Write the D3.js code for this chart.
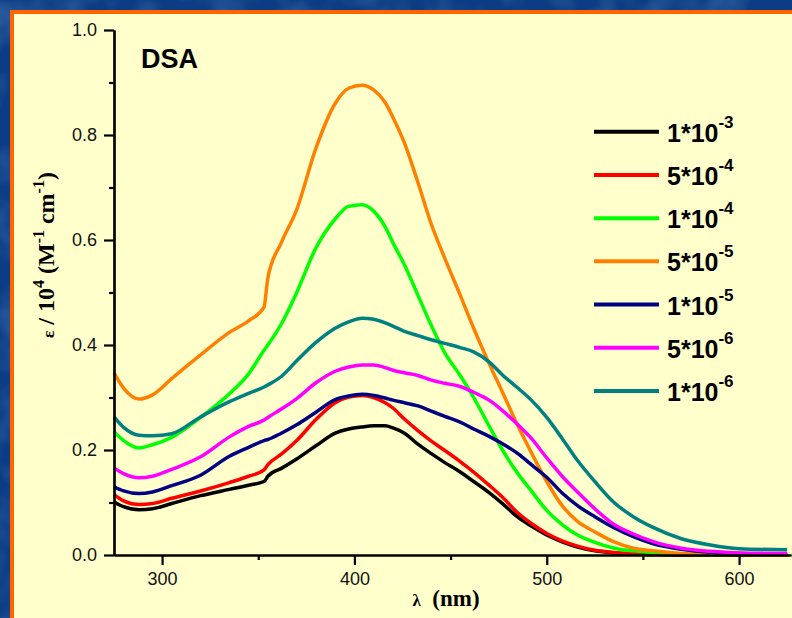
<!DOCTYPE html>
<html>
<head>
<meta charset="utf-8">
<script src="https://cdn.jsdelivr.net/npm/d3@7"></script>
<style>
  html, body { margin: 0; padding: 0; background: #0c3d84; }
  svg { display: block; }
</style>
</head>
<body>
<svg id="chart" width="792" height="618"></svg>
<script>
// wavelength grid (nm) shared by all series
const wavelengths = [275, 280, 288, 295, 305, 320, 335, 345, 353, 355, 362, 370, 380, 390, 397, 404, 410, 416, 420, 426,
  433, 440, 447, 455, 462, 470, 477, 485, 492, 500, 508, 516, 525, 535, 545, 555, 570, 585, 600, 625];

// epsilon / 10^4
const conc1e3 = [0.101, 0.092, 0.086, 0.088, 0.098, 0.113, 0.125, 0.133, 0.140, 0.150, 0.165, 0.183, 0.208, 0.232, 0.240, 0.244, 0.246, 0.246, 0.242, 0.232,
  0.211, 0.193, 0.176, 0.158, 0.140, 0.119, 0.098, 0.072, 0.055, 0.038, 0.025, 0.015, 0.008, 0.004, 0.002, 0.001, 0.000, 0.000, 0.000, 0.000];
const conc5e4 = [0.115, 0.103, 0.096, 0.098, 0.108, 0.122, 0.138, 0.150, 0.162, 0.172, 0.192, 0.218, 0.258, 0.290, 0.301, 0.304, 0.300, 0.290, 0.280, 0.259,
  0.237, 0.217, 0.199, 0.178, 0.158, 0.133, 0.110, 0.080, 0.060, 0.041, 0.027, 0.017, 0.009, 0.005, 0.002, 0.001, 0.000, 0.000, 0.000, 0.000];
const conc1e4 = [0.235, 0.218, 0.204, 0.210, 0.224, 0.262, 0.307, 0.345, 0.390, 0.400, 0.440, 0.500, 0.585, 0.640, 0.664, 0.667, 0.655, 0.625, 0.595, 0.553,
  0.495, 0.437, 0.385, 0.342, 0.300, 0.246, 0.200, 0.155, 0.122, 0.085, 0.058, 0.038, 0.024, 0.013, 0.008, 0.005, 0.002, 0.001, 0.001, 0.000];
const conc5e5 = [0.347, 0.318, 0.297, 0.305, 0.336, 0.381, 0.424, 0.446, 0.472, 0.528, 0.595, 0.658, 0.775, 0.860, 0.889, 0.895, 0.886, 0.862, 0.834, 0.785,
  0.710, 0.630, 0.565, 0.495, 0.432, 0.365, 0.310, 0.246, 0.195, 0.140, 0.094, 0.064, 0.044, 0.025, 0.013, 0.008, 0.003, 0.001, 0.001, 0.000];
const conc1e5 = [0.130, 0.122, 0.117, 0.120, 0.132, 0.152, 0.188, 0.205, 0.218, 0.220, 0.232, 0.248, 0.272, 0.296, 0.303, 0.306, 0.304, 0.299, 0.295, 0.290,
  0.284, 0.274, 0.264, 0.253, 0.240, 0.226, 0.212, 0.193, 0.172, 0.148, 0.118, 0.094, 0.073, 0.052, 0.035, 0.022, 0.011, 0.005, 0.003, 0.002];
const conc5e6 = [0.166, 0.155, 0.147, 0.150, 0.163, 0.187, 0.225, 0.245, 0.257, 0.262, 0.278, 0.298, 0.328, 0.350, 0.358, 0.362, 0.362, 0.357, 0.352, 0.347,
  0.342, 0.333, 0.327, 0.321, 0.310, 0.295, 0.275, 0.248, 0.222, 0.185, 0.150, 0.120, 0.088, 0.058, 0.040, 0.026, 0.013, 0.007, 0.004, 0.003];
const conc1e6 = [0.263, 0.243, 0.228, 0.227, 0.231, 0.263, 0.292, 0.308, 0.320, 0.324, 0.340, 0.370, 0.405, 0.432, 0.444, 0.451, 0.449, 0.442, 0.436, 0.426,
  0.418, 0.410, 0.403, 0.395, 0.387, 0.368, 0.343, 0.318, 0.295, 0.262, 0.222, 0.180, 0.140, 0.100, 0.073, 0.053, 0.031, 0.019, 0.012, 0.010];

const seriesValues = [conc1e3, conc5e4, conc1e4, conc5e5, conc1e5, conc5e6, conc1e6];
const legendBase = ["1*10", "5*10", "1*10", "5*10", "1*10", "5*10", "1*10"];
const legendExp = ["-3", "-4", "-4", "-5", "-5", "-6", "-6"];
const seriesColors = ["#000000", "#ff0000", "#00ff00", "#ff8000", "#000080", "#ff00ff", "#008080"];

const xMajor = [300, 400, 500, 600];
const xMinor = [350, 450, 550];
const yMajor = [0.0, 0.2, 0.4, 0.6, 0.8, 1.0];
const yMinor = [0.1, 0.3, 0.5, 0.7, 0.9];

const svg = d3.select("#chart");

// textured blue slide background
const defs = svg.append("defs");
const tex = defs.append("filter").attr("id", "tex").attr("x", 0).attr("y", 0).attr("width", 1).attr("height", 1);
tex.append("feTurbulence").attr("type", "fractalNoise").attr("baseFrequency", 0.02).attr("numOctaves", 3).attr("seed", 4);
tex.append("feColorMatrix").attr("type", "matrix")
  .attr("values", "0 0 0 0 0.2  0 0 0 0 0.4  0 0 0 0 0.7  0 0 0.7 0 -0.3");
svg.append("rect").attr("width", 792).attr("height", 618).attr("fill", "#0c3d84");
svg.append("rect").attr("width", 792).attr("height", 618).attr("filter", "url(#tex)");

// cream panel with orange frame
svg.append("rect").attr("x", 10).attr("y", 10).attr("width", 800).attr("height", 620).attr("fill", "#ff6600");
svg.append("rect").attr("x", 14).attr("y", 14).attr("width", 800).attr("height", 620).attr("fill", "#ffffcc");

const x = d3.scaleLinear().domain([275, 627]).range([114, 791]);
const y = d3.scaleLinear().domain([0, 1]).range([555, 30]);

const g = svg.append("g");

// curves
const line = d3.line()
  .x((d, i) => x(wavelengths[i]))
  .y(d => y(d))
  .curve(d3.curveMonotoneX);

g.selectAll(".curve")
  .data(seriesValues)
  .enter()
  .append("path")
  .attr("class", "curve")
  .attr("d", line)
  .attr("fill", "none")
  .attr("stroke", (d, i) => seriesColors[i])
  .attr("stroke-width", 3.5)
  .attr("stroke-linejoin", "round");

// axes
const axisFont = "'Liberation Sans', Arial, sans-serif";

g.append("g").attr("transform", "translate(0,555)")
  .call(d3.axisBottom(x).tickValues(xMajor).tickSize(10).tickSizeOuter(0).tickPadding(7).tickFormat(d3.format("d")));
g.append("g").attr("transform", "translate(0,555)")
  .call(d3.axisBottom(x).tickValues(xMinor).tickSize(5).tickSizeOuter(0).tickFormat(""));

g.append("g").attr("transform", "translate(114,0)")
  .call(d3.axisLeft(y).tickValues(yMajor).tickSize(10).tickSizeOuter(0).tickPadding(7).tickFormat(d3.format(".1f")));
g.append("g").attr("transform", "translate(114,0)")
  .call(d3.axisLeft(y).tickValues(yMinor).tickSize(5).tickSizeOuter(0).tickFormat(""));

g.selectAll(".domain").attr("stroke", "#000").attr("stroke-width", 2.2);
g.selectAll(".tick line").attr("stroke", "#000").attr("stroke-width", 2.2);
g.selectAll(".tick text").attr("fill", "#111").style("font-family", axisFont).style("font-size", "18px");

// title inside plot
svg.append("text")
  .attr("x", 141).attr("y", 68)
  .style("font-family", axisFont).style("font-weight", "bold").style("font-size", "27px")
  .text("DSA");

// axis titles
const serif = "'Liberation Serif', 'Times New Roman', serif";
const xt = svg.append("text")
  .attr("x", 446).attr("y", 606)
  .attr("text-anchor", "middle")
  .style("font-family", serif).style("font-weight", "bold").style("font-size", "23px");
xt.append("tspan").style("font-size", "17px").text("λ");
xt.append("tspan").text("\u00a0\u00a0(nm)");

const yt = svg.append("text")
  .attr("transform", "translate(54,255) rotate(-90)")
  .attr("text-anchor", "middle")
  .style("font-family", serif).style("font-weight", "bold").style("font-size", "24px");
yt.append("tspan").style("font-size", "17px").text("ε");
yt.append("tspan").text(" / 10");
yt.append("tspan").attr("dy", -10).style("font-size", "16px").text("4");
yt.append("tspan").attr("dy", 10).text(" (M");
yt.append("tspan").attr("dy", -10).style("font-size", "16px").text("-1");
yt.append("tspan").attr("dy", 10).text(" cm");
yt.append("tspan").attr("dy", -10).style("font-size", "16px").text("-1");
yt.append("tspan").attr("dy", 10).text(")");

// legend
const legendRow = d3.scaleLinear().domain([0, 6]).range([131.7, 391]);
const items = svg.append("g").selectAll(".item")
  .data(legendBase)
  .enter()
  .append("g")
  .attr("class", "item")
  .attr("transform", (d, i) => "translate(0," + legendRow(i) + ")");

items.append("line")
  .attr("x1", 594).attr("x2", 659)
  .attr("stroke", (d, i) => seriesColors[i])
  .attr("stroke-width", 4);

const lt = items.append("text")
  .attr("x", 667).attr("y", 10)
  .style("font-family", axisFont).style("font-weight", "bold").style("font-size", "25px");
lt.append("tspan").text(d => d);
lt.append("tspan").attr("dy", -14).style("font-size", "17px").text((d, i) => legendExp[i]);
</script>
</body>
</html>
